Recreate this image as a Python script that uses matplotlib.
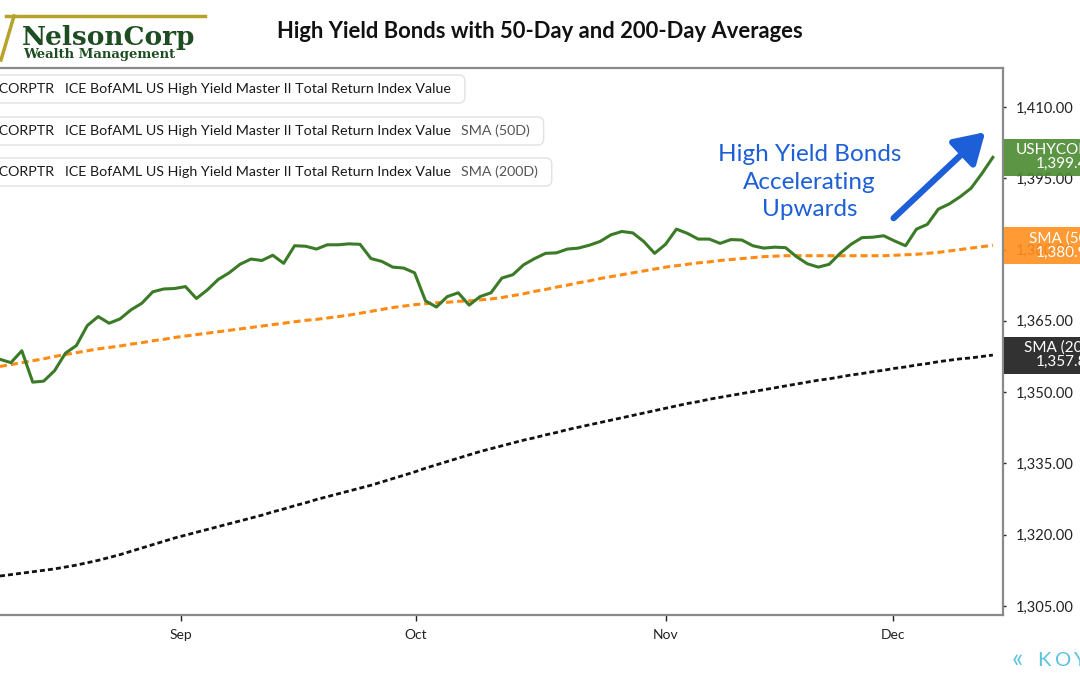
import numpy as np
import matplotlib
matplotlib.use('Agg')
import matplotlib.pyplot as plt
from matplotlib.patches import FancyBboxPatch, Rectangle
from matplotlib.lines import Line2D
from matplotlib.ticker import FuncFormatter
import matplotlib.transforms as mtransforms

plt.rcParams['font.family'] = ['Lato', 'DejaVu Sans']

# month ticks (trading-day index positions)
months = ['Sep', 'Oct', 'Nov', 'Dec']
month_pos = [16.6, 38.1, 61.0, 81.85]

yticks = [1305, 1320, 1335, 1350, 1365, 1380, 1395, 1410]

hy_index = [1356.9, 1356.2, 1358.7, 1352.1, 1352.3, 1354.5, 1358.2, 1359.8, 1364.0, 1365.9,
            1364.5, 1365.4, 1367.3, 1368.7, 1371.1, 1371.7, 1371.8, 1372.2, 1369.7, 1371.5,
            1373.7, 1375.1, 1376.9, 1378.0, 1377.7, 1378.8, 1377.1, 1380.8, 1380.7, 1380.1,
            1381.0, 1381.0, 1381.2, 1381.1, 1378.1, 1377.5, 1376.3, 1376.1, 1375.1, 1369.2,
            1367.9, 1370.1, 1370.9, 1368.3, 1370.1, 1370.9, 1374.0, 1374.7, 1376.8, 1378.1,
            1379.2, 1379.3, 1380.1, 1380.3, 1380.9, 1381.7, 1383.1, 1383.8, 1383.5, 1381.7,
            1379.2, 1381.1, 1384.3, 1383.4, 1382.2, 1382.2, 1381.3, 1382.1, 1382.0, 1380.8,
            1380.3, 1380.5, 1380.4, 1378.5, 1377.0, 1376.3, 1376.9, 1379.2, 1381.1, 1382.5,
            1382.6, 1382.9, 1381.8, 1380.8, 1384.3, 1385.3, 1388.5, 1389.6, 1391.1, 1392.9,
            1396.0, 1399.4]

sma_50 = [1355.4, 1355.8, 1356.2, 1356.6, 1357.0, 1357.5, 1357.9, 1358.3, 1358.7, 1359.1,
          1359.4, 1359.7, 1360.1, 1360.4, 1360.8, 1361.1, 1361.5, 1361.8, 1362.1, 1362.4,
          1362.7, 1363.0, 1363.3, 1363.6, 1363.9, 1364.2, 1364.5, 1364.8, 1365.1, 1365.3,
          1365.6, 1365.9, 1366.2, 1366.6, 1367.0, 1367.4, 1367.8, 1368.1, 1368.4, 1368.6,
          1368.8, 1368.9, 1369.1, 1369.2, 1369.4, 1369.6, 1369.9, 1370.3, 1370.7, 1371.2,
          1371.6, 1372.1, 1372.5, 1373.0, 1373.4, 1373.9, 1374.3, 1374.7, 1375.1, 1375.5,
          1375.9, 1376.3, 1376.6, 1376.9, 1377.2, 1377.4, 1377.7, 1377.9, 1378.1, 1378.3,
          1378.5, 1378.6, 1378.7, 1378.7, 1378.7, 1378.7, 1378.7, 1378.7, 1378.7, 1378.7,
          1378.7, 1378.7, 1378.8, 1378.9, 1379.0, 1379.2, 1379.4, 1379.7, 1380.0, 1380.3,
          1380.6, 1380.9]

sma_200 = [1311.3, 1311.6, 1311.9, 1312.2, 1312.5, 1312.8, 1313.2, 1313.6, 1314.1, 1314.6,
           1315.2, 1315.8, 1316.5, 1317.2, 1317.9, 1318.6, 1319.3, 1319.9, 1320.5, 1321.1,
           1321.7, 1322.3, 1322.9, 1323.5, 1324.1, 1324.8, 1325.4, 1326.1, 1326.7, 1327.4,
           1328.0, 1328.6, 1329.2, 1329.8, 1330.4, 1331.1, 1331.8, 1332.5, 1333.2, 1334.0,
           1334.7, 1335.4, 1336.1, 1336.8, 1337.5, 1338.1, 1338.7, 1339.3, 1339.9, 1340.4,
           1341.0, 1341.5, 1342.1, 1342.6, 1343.1, 1343.6, 1344.1, 1344.6, 1345.1, 1345.6,
           1346.1, 1346.6, 1347.1, 1347.6, 1348.0, 1348.5, 1348.9, 1349.3, 1349.7, 1350.1,
           1350.5, 1350.9, 1351.3, 1351.7, 1352.1, 1352.5, 1352.8, 1353.2, 1353.6, 1353.9,
           1354.3, 1354.6, 1355.0, 1355.3, 1355.7, 1356.0, 1356.4, 1356.7, 1357.0, 1357.2,
           1357.5, 1357.8]

series_name = 'ICE BofAML US High Yield Master II Total Return Index Value'
ticker = 'USHYCORPTR'

GREEN = '#3b7a26'
ORANGE = '#ff8a14'
BLACK = '#111111'
BLUE = '#1c5fd6'

W, H = 1080, 675
fig = plt.figure(figsize=(W / 100, H / 100), dpi=100)
ax = fig.add_axes([0, 60 / H, 1003 / W, (615 - 68) / H])

x = np.arange(len(hy_index))
ax.plot(x, sma_200, color=BLACK, lw=2.0, ls=(0, (1.8, 1.1)), zorder=2)
ax.plot(x, sma_50, color=ORANGE, lw=2.2, ls=(0, (2.3, 1.3)), zorder=3)
ax.plot(x, hy_index, color=GREEN, lw=2.2, zorder=4)

ax.set_xlim(0, 91.93)
ax.set_ylim(1303.1, 1418.2)

ax.yaxis.tick_right()
ax.set_yticks(yticks)
ax.yaxis.set_major_formatter(FuncFormatter(lambda v, p: f'{v:,.2f}'))
ax.set_xticks(month_pos)
ax.set_xticklabels(months)
ax.tick_params(axis='y', labelsize=10.5, length=2, width=1, colors='#222222', pad=7)
ax.tick_params(axis='x', labelsize=10, length=4, width=1, colors='#222222', pad=6)
ax.spines['left'].set_visible(False)
for s in ['right', 'bottom', 'top']:
    ax.spines[s].set_color('#8a8a8a')
    ax.spines[s].set_linewidth(1.6)

# last-value tags on the right
trans = mtransforms.blended_transform_factory(ax.transAxes, ax.transData)
box_h = 37 / 4.752
for val, name, col in [(hy_index[-1], ticker, '#4a8a2f'),
                       (sma_50[-1], 'SMA (50D)', '#ff8f1f'),
                       (sma_200[-1], 'SMA (200D)', '#1c1c1c')]:
    ax.add_patch(Rectangle((1.001, val - box_h / 2), 0.2, box_h, transform=trans,
                           facecolor=col, edgecolor='none', alpha=0.9, clip_on=False, zorder=6))
    ax.text(1066 / 1003, val, f'{name}\n{val:,.2f}', transform=trans, ha='center', va='center',
            multialignment='center', color='white', fontsize=11, linespacing=1.0,
            clip_on=False, zorder=7)

# annotation
ax.text(74.2, 1394.2, 'High Yield Bonds\nAccelerating\nUpwards', ha='center', va='center',
        color=BLUE, fontsize=17.5, linespacing=1.4, zorder=5)
ax.annotate('', xy=(90.3, 1404.7), xytext=(81.9, 1386.6),
            arrowprops=dict(arrowstyle='-|>,head_length=0.9,head_width=0.55', lw=4.5,
                            color=BLUE, mutation_scale=20, shrinkA=0, shrinkB=0), zorder=5)

# title
fig.text(540 / W, 1 - 32 / H, 'High Yield Bonds with 50-Day and 200-Day Averages',
         ha='center', va='center', fontsize=15.8, fontweight='bold', color='#111111')

# logo
gold = '#b5a32c'
fig.add_artist(Line2D([6 / W, 205 / W], [1 - 16 / H, 1 - 16 / H], color=gold, lw=2.5))
fig.add_artist(Line2D([14 / W, 1 / W], [1 - 16 / H, 1 - 60 / H], color=gold, lw=2.5))
fig.text(22 / W, 1 - 45 / H, 'NelsonCorp', family='DejaVu Serif', fontweight='bold',
         fontsize=19, color='#1e4d22', ha='left', va='baseline')
fig.text(23 / W, 1 - 58 / H, 'Wealth Management', family='DejaVu Serif', fontweight='bold',
         fontsize=9.5, color='#1e4d22', ha='left', va='baseline')

# legend boxes
fig.canvas.draw()
renderer = fig.canvas.get_renderer()
for (ytop, ybot), extra in [((75, 103), None), ((117, 145), 'SMA (50D)'), ((158, 186), 'SMA (200D)')]:
    yc = 1 - (ytop + ybot) / 2 / H
    fig.text(55 / W, yc, ticker, ha='right', va='center', fontsize=10.3, color='#1a1a1a', zorder=4)
    t = fig.text(65 / W, yc, series_name, ha='left', va='center', fontsize=10.3,
                 color='#1a1a1a', zorder=4)
    right = t.get_window_extent(renderer).x1
    if extra:
        t2 = fig.text((right + 10) / W, yc, extra, ha='left', va='center', fontsize=10.3,
                      color='#555555', zorder=4)
        right = t2.get_window_extent(renderer).x1
    box = FancyBboxPatch((-30, H - ybot), right + 14 + 30, ybot - ytop,
                         boxstyle='round,pad=0,rounding_size=6', transform=None,
                         facecolor='white', edgecolor='#e2e2e2', lw=1, zorder=3)
    fig.patches.append(box)

# watermark
wm = '#5cc3df'
fig.text(1012 / W, 1 - 659 / H, '«', color=wm, fontsize=19, ha='left', va='center')
for k, ch in enumerate('KOYFIN'):
    fig.text((1037 + 18 * k) / W, 1 - 660 / H, ch, color=wm, fontsize=14.5,
             ha='left', va='center')

fig.savefig('out.png', dpi=100)
